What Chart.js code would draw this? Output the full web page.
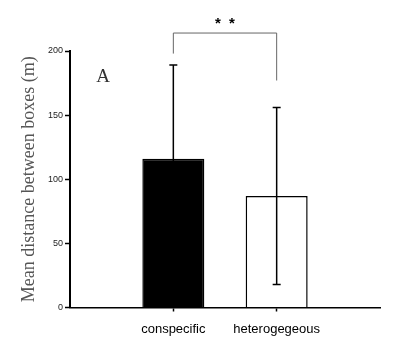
<!DOCTYPE html>
<html><head><meta charset="utf-8">
<script src="https://cdn.jsdelivr.net/npm/chart.js@4"></script>
<style>html,body{margin:0;padding:0;background:#fff}#wrap{width:401px;height:352px;position:relative}</style>
</head><body><div id="wrap"><canvas id="c"></canvas></div>
<script>
// ---- data ----
const categories = ['', 'conspecific', 'heterogegeous', ''];
const meanValues = [null, 116, 87, null];
const sdUpper = [null, 73, 69, null];
const sdLower = [null, 73, 69, null];
const barFill = ['#000000', '#000000', '#ffffff', '#ffffff'];
const yTicks = [0, 50, 100, 150, 200];
const bracketX = [1, 2];            // category indices joined by the bracket
const bracketY = [198, 214, 177];   // left end, top, right end (data units)
const starsY = 223;
const starsText = ['*', '*'];
const panelLabel = 'A';
const panelPos = [0.32, 180];
const yTitle = 'Mean distance between boxes (m)';

const overlay = {
  id: 'overlay',
  afterDatasetsDraw(chart) {
    const ctx = chart.ctx, xs = chart.scales.x, ys = chart.scales.y;
    const meta = chart.getDatasetMeta(0);
    ctx.save();
    // error bars
    ctx.strokeStyle = '#000'; ctx.lineWidth = 1.5;
    meanValues.forEach((v, i) => {
      if (v == null) return;
      const px = meta.data[i].x;
      const yt = ys.getPixelForValue(v + sdUpper[i]);
      const yb = ys.getPixelForValue(v - sdLower[i]);
      ctx.beginPath();
      ctx.moveTo(px, yt); ctx.lineTo(px, yb);
      ctx.moveTo(px - 4, yt); ctx.lineTo(px + 4, yt);
      ctx.moveTo(px - 4, yb); ctx.lineTo(px + 4, yb);
      ctx.stroke();
    });
    // significance bracket
    const xl = xs.getPixelForValue(bracketX[0]), xr = xs.getPixelForValue(bracketX[1]);
    ctx.strokeStyle = '#666'; ctx.lineWidth = 1;
    ctx.beginPath();
    ctx.moveTo(xl, ys.getPixelForValue(bracketY[0]));
    ctx.lineTo(xl, ys.getPixelForValue(bracketY[1]));
    ctx.lineTo(xr, ys.getPixelForValue(bracketY[1]));
    ctx.lineTo(xr, ys.getPixelForValue(bracketY[2]));
    ctx.stroke();
    // stars
    const xm = (xl + xr) / 2;
    ctx.fillStyle = '#000';
    ctx.font = 'bold 15px "Liberation Sans"';
    ctx.textAlign = 'center'; ctx.textBaseline = 'middle';
    const sy = ys.getPixelForValue(starsY);
    ctx.fillText(starsText[0], xm - 7, sy + 2);
    ctx.fillText(starsText[1], xm + 7, sy + 2);
    // panel label
    ctx.fillStyle = '#333';
    ctx.font = '19px "Liberation Serif"';
    ctx.fillText(panelLabel, xs.getPixelForValue(panelPos[0]), ys.getPixelForValue(panelPos[1]));
    ctx.restore();
  }
};

new Chart(document.getElementById('c'), {
  type: 'bar',
  data: {
    labels: categories,
    datasets: [{
      data: meanValues,
      backgroundColor: barFill,
      borderColor: '#000',
      borderWidth: 1.5,
      categoryPercentage: 1,
      barPercentage: 0.6
    }]
  },
  options: {
    responsive: true,
    maintainAspectRatio: false,
    animation: false,
    events: [],
    layout: { padding: { left: 14, right: 21, top: 51, bottom: 0 } },
    plugins: { legend: { display: false }, tooltip: { enabled: false } },
    scales: {
      x: {
        offset: false,
        afterFit: s => { s.height = 44.5; },
        grid: {
          offset: false,
          drawOnChartArea: false, drawTicks: true, tickLength: 4,
          color: 'transparent',
          tickColor: c => (c.index === 1 || c.index === 2) ? '#000' : 'transparent',
          tickWidth: 1.5
        },
        border: { display: true, color: '#000', width: 1.5 },
        ticks: { color: '#000', font: { family: 'Liberation Sans', size: 13 }, padding: 10, maxRotation: 0, autoSkip: false }
      },
      y: {
        min: 0, max: 200,
        afterFit: s => { s.width = 56; },
        afterBuildTicks: s => { s.ticks = yTicks.map(v => ({ value: v })); },
        grid: { drawOnChartArea: false, drawTicks: true, tickLength: 5, color: '#000', tickWidth: 1.5 },
        border: { display: true, color: '#000', width: 2 },
        ticks: { color: '#222', font: { family: 'Liberation Sans', size: 9 }, padding: 2 },
        title: { display: true, text: yTitle, color: '#555', font: { family: 'Liberation Serif', size: 18 }, padding: { top: 4, bottom: 4 } }
      }
    }
  },
  plugins: [overlay]
});
</script>
</body></html>
